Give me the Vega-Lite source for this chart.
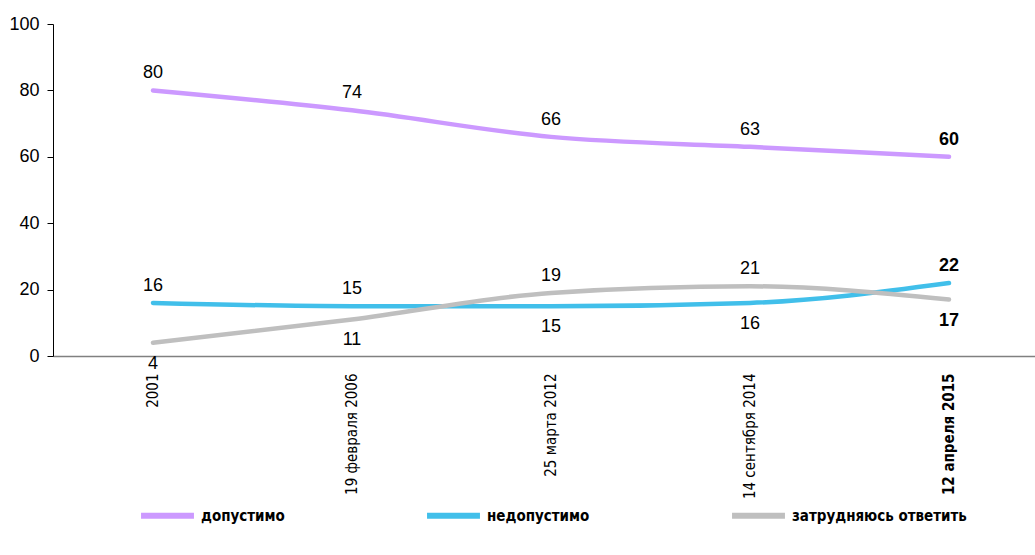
{
  "$schema": "https://vega.github.io/schema/vega-lite/v6.json",
  "autosize": "none",
  "width": 982,
  "height": 332,
  "padding": {"left": 53, "top": 24, "right": 0, "bottom": 199},
  "background": "white",
  "config": {"view": {"stroke": null}, "font": "Liberation Sans"},
  "data": {"values": [
    {"date": "2001", "series": "допустимо", "value": 80},
    {"date": "19 февраля 2006", "series": "допустимо", "value": 74},
    {"date": "25 марта 2012", "series": "допустимо", "value": 66},
    {"date": "14 сентября 2014", "series": "допустимо", "value": 63},
    {"date": "12 апреля 2015", "series": "допустимо", "value": 60},
    {"date": "2001", "series": "недопустимо", "value": 16},
    {"date": "19 февраля 2006", "series": "недопустимо", "value": 15},
    {"date": "25 марта 2012", "series": "недопустимо", "value": 15},
    {"date": "14 сентября 2014", "series": "недопустимо", "value": 16},
    {"date": "12 апреля 2015", "series": "недопустимо", "value": 22},
    {"date": "2001", "series": "затрудняюсь ответить", "value": 4},
    {"date": "19 февраля 2006", "series": "затрудняюсь ответить", "value": 11},
    {"date": "25 марта 2012", "series": "затрудняюсь ответить", "value": 19},
    {"date": "14 сентября 2014", "series": "затрудняюсь ответить", "value": 21},
    {"date": "12 апреля 2015", "series": "затрудняюсь ответить", "value": 17}
  ]},
  "encoding": {
    "x": {
      "field": "date", "type": "ordinal", "sort": null,
      "scale": {"type": "point", "padding": 0.4673, "align": 0.5376},
      "axis": {
        "title": null, "labelAngle": -90, "ticks": false, "labelPadding": 17,
        "labelFont": "DejaVu Sans Condensed", "labelFontSize": 15, "labelColor": "black",
        "labelFontWeight": {"condition": {"test": "datum.value == '12 апреля 2015'", "value": "bold"}, "value": "normal"},
        "domainColor": "#808080", "domainWidth": 1.5
      }
    },
    "y": {
      "field": "value", "type": "quantitative",
      "scale": {"domain": [0, 100], "nice": false},
      "axis": {
        "title": null, "grid": false, "values": [0, 20, 40, 60, 80, 100],
        "tickSize": 6, "tickColor": "black", "domainColor": "black",
        "labelFontSize": 18, "labelColor": "black", "labelPadding": 8
      }
    }
  },
  "layer": [
    {
      "mark": {"type": "line", "interpolate": "monotone", "strokeWidth": 4.5, "strokeCap": "round"},
      "encoding": {
        "color": {
          "field": "series", "type": "nominal",
          "scale": {"domain": ["допустимо", "недопустимо", "затрудняюсь ответить"], "range": ["#CC99FF", "#41BFEA", "#BFBFBF"]},
          "legend": {
            "title": null, "orient": "none", "legendX": 85, "legendY": 462,
            "direction": "horizontal", "columns": 3, "columnPadding": 130,
            "symbolType": "stroke", "symbolSize": 2800, "symbolStrokeWidth": 6,
            "labelFont": "DejaVu Sans Condensed", "labelFontSize": 15, "labelFontWeight": "bold",
            "labelColor": "black", "labelOffset": 4, "labelLimit": 400
          }
        }
      }
    },
    {
      "transform": [
        {"filter": "datum.series == 'допустимо' || (datum.series == 'недопустимо' && indexof(['2001', '19 февраля 2006', '12 апреля 2015'], datum.date) >= 0) || (datum.series == 'затрудняюсь ответить' && indexof(['25 марта 2012', '14 сентября 2014'], datum.date) >= 0)"},
        {"filter": "datum.date != '12 апреля 2015'"}
      ],
      "mark": {"type": "text", "fontSize": 18, "baseline": "alphabetic", "dy": -12, "color": "black"},
      "encoding": {"text": {"field": "value", "type": "quantitative"}}
    },
    {
      "transform": [
        {"filter": "datum.series == 'допустимо' || (datum.series == 'недопустимо' && indexof(['2001', '19 февраля 2006', '12 апреля 2015'], datum.date) >= 0) || (datum.series == 'затрудняюсь ответить' && indexof(['25 марта 2012', '14 сентября 2014'], datum.date) >= 0)"},
        {"filter": "datum.date == '12 апреля 2015'"}
      ],
      "mark": {"type": "text", "fontSize": 18, "fontWeight": "bold", "baseline": "alphabetic", "dy": -12, "color": "black"},
      "encoding": {"text": {"field": "value", "type": "quantitative"}}
    },
    {
      "transform": [
        {"filter": "!(datum.series == 'допустимо' || (datum.series == 'недопустимо' && indexof(['2001', '19 февраля 2006', '12 апреля 2015'], datum.date) >= 0) || (datum.series == 'затрудняюсь ответить' && indexof(['25 марта 2012', '14 сентября 2014'], datum.date) >= 0))"},
        {"filter": "datum.date != '12 апреля 2015'"}
      ],
      "mark": {"type": "text", "fontSize": 18, "baseline": "alphabetic", "dy": 26, "color": "black"},
      "encoding": {"text": {"field": "value", "type": "quantitative"}}
    },
    {
      "transform": [
        {"filter": "!(datum.series == 'допустимо' || (datum.series == 'недопустимо' && indexof(['2001', '19 февраля 2006', '12 апреля 2015'], datum.date) >= 0) || (datum.series == 'затрудняюсь ответить' && indexof(['25 марта 2012', '14 сентября 2014'], datum.date) >= 0))"},
        {"filter": "datum.date == '12 апреля 2015'"}
      ],
      "mark": {"type": "text", "fontSize": 18, "fontWeight": "bold", "baseline": "alphabetic", "dy": 26, "color": "black"},
      "encoding": {"text": {"field": "value", "type": "quantitative"}}
    }
  ]
}
